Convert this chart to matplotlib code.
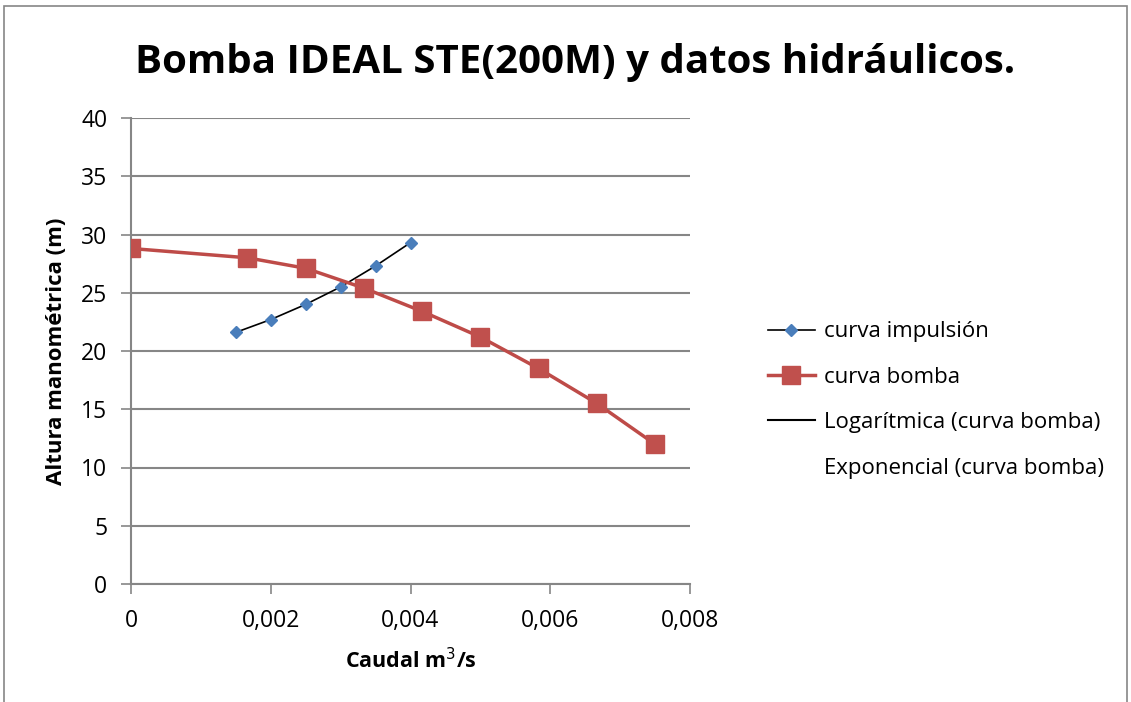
import matplotlib.pyplot as plt
from matplotlib.lines import Line2D
from matplotlib.patches import Rectangle
from matplotlib.ticker import FuncFormatter, MultipleLocator

#Chart data.
caudalImpulsion = [0.0015, 0.002, 0.0025, 0.003, 0.0035, 0.004]
alturaImpulsion = [21.6, 22.7, 24.0, 25.5, 27.3, 29.3]

caudalBomba = [0, 0.001667, 0.0025, 0.003333, 0.004167, 0.005, 0.005833, 0.006667, 0.0075]
alturaBomba = [28.8, 28.0, 27.1, 25.4, 23.4, 21.2, 18.5, 15.5, 12.0]

legendLabels = ["curva impulsión", "curva bomba",
                "Logarítmica (curva bomba)", "Exponencial (curva bomba)"]

plt.rcParams['font.family'] = ['Open Sans', 'DejaVu Sans']
grey = '#868686'

fig = plt.figure(figsize=(11.31, 7.02), dpi=100)
ax = fig.add_axes([131/1131, 1 - 584/702, (690 - 131)/1131, (584 - 118)/702])

#Outer chart border.
fig.patches.append(Rectangle((4/1131, -0.05), 1123/1131, 1.05 - 6/702,
                             transform=fig.transFigure, fill=False,
                             edgecolor=grey, lw=1.2))

ax.plot(caudalImpulsion, alturaImpulsion, color='black', lw=1.2,
        marker='D', markersize=6, markerfacecolor='#4a7ebb',
        markeredgecolor='#4a7ebb', zorder=3)
ax.plot(caudalBomba, alturaBomba, color='#be4b48', lw=2.5,
        marker='s', markersize=13, markerfacecolor='#c0504d',
        markeredgecolor='#c0504d', zorder=4)

ax.set_xlim(0, 0.008)
ax.set_ylim(0, 40)
ax.xaxis.set_major_locator(MultipleLocator(0.002))
ax.yaxis.set_major_locator(MultipleLocator(5))
ax.xaxis.set_major_formatter(FuncFormatter(
    lambda v, p: '0' if v == 0 else ('%g' % round(v, 4)).replace('.', ',')))

ax.grid(axis='y', color=grey, lw=1.5)
ax.set_axisbelow(True)
for s in ['top', 'right']:
    ax.spines[s].set_visible(False)
for s in ['left', 'bottom']:
    ax.spines[s].set_color(grey)
    ax.spines[s].set_linewidth(1.5)
ax.tick_params(axis='both', colors=grey, labelcolor='black', labelsize=16.5,
               length=7, width=1.2, direction='out')
ax.tick_params(axis='x', pad=11)
ax.tick_params(axis='y', pad=10)

ax.set_xlabel('Caudal m$^3$/s', fontsize=15.5, fontweight='bold', labelpad=11)
ax.set_ylabel('Altura manométrica (m)', fontsize=16, fontweight='bold', labelpad=10)

fig.text(575/1131, 1 - 62/702, 'Bomba IDEAL STE(200M) y datos hidráulicos.',
         ha='center', va='center', fontsize=29, fontweight='bold')

handles = [
    Line2D([], [], color='black', lw=1.2, marker='D', markersize=6,
           markerfacecolor='#4a7ebb', markeredgecolor='#4a7ebb'),
    Line2D([], [], color='#be4b48', lw=2.5, marker='s', markersize=13,
           markerfacecolor='#c0504d', markeredgecolor='#c0504d'),
    Line2D([], [], color='black', lw=1.5),
    Line2D([], [], color='none', lw=1.5),
]
fig.legend(handles, legendLabels, loc='center left',
           bbox_to_anchor=(748/1131, 1 - 400/702), frameon=False,
           fontsize=16, handlelength=2.1, handletextpad=0.4,
           labelspacing=1.1)

fig.savefig('out.png', dpi=100)
